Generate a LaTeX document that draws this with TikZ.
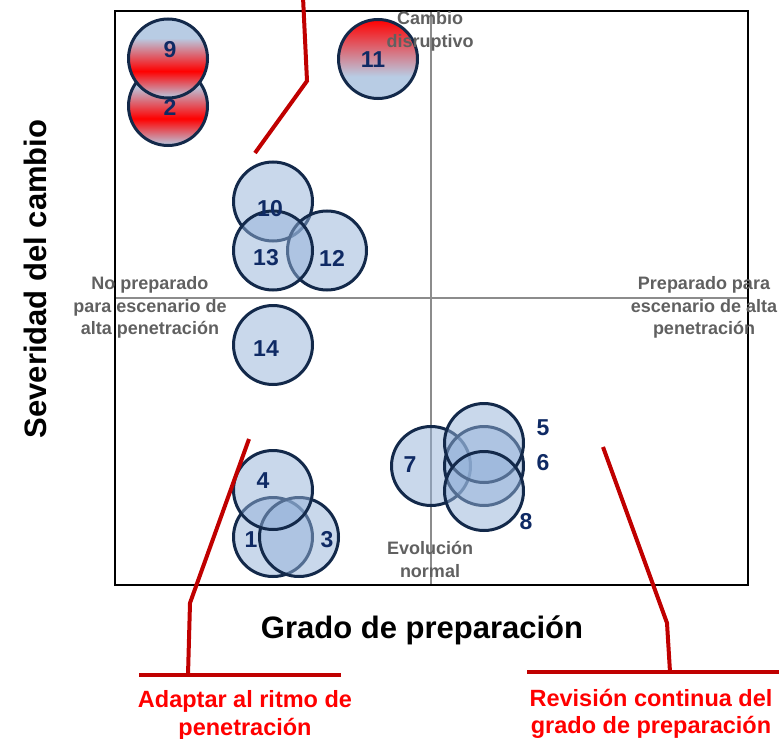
\documentclass[tikz,border=0pt]{standalone}
\usepackage{fontspec}
\setmainfont{Liberation Sans}
\definecolor{cblue}{HTML}{B8CCE4}
\definecolor{cred}{HTML}{FF0000}
\definecolor{bubblefill}{HTML}{93B1D8}
\definecolor{bubbleline}{HTML}{13294A}
\definecolor{numcol}{HTML}{0F2A64}
\definecolor{graytxt}{HTML}{606060}
\definecolor{darkred}{HTML}{C00000}
\pgfdeclareverticalshading{bandred}{100bp}{color(0bp)=(cblue); color(25bp)=(cblue); color(42bp)=(cred); color(63bp)=(cblue); color(75bp)=(cblue); color(100bp)=(cblue)}
\pgfdeclareverticalshading{topred}{100bp}{color(0bp)=(cblue); color(25bp)=(cblue); color(39bp)=(cblue); color(75bp)=(cred); color(100bp)=(cred)}
\tikzset{
  bubble/.style={circle, draw=bubbleline, line width=3pt, minimum size=79pt, inner sep=0pt, fill=bubblefill, fill opacity=0.5},
  hotbubble/.style={circle, draw=bubbleline, line width=3pt, minimum size=79pt, inner sep=0pt, shade, shading=#1},
  num/.style={text=numcol, font=\bfseries\fontsize{23}{27}\selectfont, inner sep=0pt},
  quad/.style={text=graytxt, font=\bfseries\fontsize{18}{22.5}\selectfont, align=center, inner sep=0pt},
  axistitle/.style={text=black, font=\bfseries\fontsize{31}{37}\selectfont, inner sep=0pt},
  redlabel/.style={text=cred, font=\bfseries\fontsize{23.5}{27.5}\selectfont, align=center, inner sep=0pt},
  callout/.style={draw=darkred, line width=4pt},
}
\begin{document}
\begin{tikzpicture}[x=1pt, y=-1pt]
\useasboundingbox (0,0) rectangle (783,738);
% frame and axes
\coordinate (fTL) at (115,11);
\coordinate (fBR) at (748,585);
\coordinate (axL) at (115,297.5);
\coordinate (axR) at (748,297.5);
\coordinate (axT) at (430.5,11);
\coordinate (axB) at (430.5,585);
\draw[gray!90, line width=2pt] (axL) -- (axR);
\draw[gray!90, line width=2pt] (axT) -- (axB);
\draw[black, line width=2pt] (fTL) rectangle (fBR);
% hot bubbles
\node[hotbubble=bandred] (c2) at (168,106) {};
\node[hotbubble=bandred] (c9) at (168,58.5) {};
\node[hotbubble=topred] (c11) at (378,59) {};
% bubbles
\node[bubble] (c10) at (273,201.5) {};
\node[bubble] (c12) at (327,250.5) {};
\node[bubble] (c13) at (273,250.5) {};
\node[bubble] (c14) at (273,345) {};
\node[bubble] (c1) at (273,537) {};
\node[bubble] (c3) at (299,537) {};
\node[bubble] (c4) at (273,490) {};
\node[bubble] (c7) at (431,466) {};
\node[bubble] (c6) at (484,466) {};
\node[bubble] (c5) at (484,443) {};
\node[bubble] (c8) at (484,491) {};
% numbers
\node[num] (n9) at (170,50) {9};
\node[num] (n2) at (170,107) {2};
\node[num] (n11) at (373,60) {11};
\node[num] (n10) at (270,209) {10};
\node[num] (n13) at (266,258) {13};
\node[num] (n12) at (332,258) {12};
\node[num] (n14) at (266,349) {14};
\node[num] (n4) at (263,481) {4};
\node[num] (n1) at (251,540) {1};
\node[num] (n3) at (327,540) {3};
\node[num] (n7) at (410,465) {7};
\node[num] (n5) at (543,428) {5};
\node[num] (n6) at (543,463) {6};
\node[num] (n8) at (526,522) {8};
% quadrant labels
\node[quad] (qtop) at (430,31.5) {Cambio\\disruptivo};
\node[quad] (qleft) at (150,307.5) {No preparado\\para escenario de\\alta penetración};
\node[quad] (qright) at (704,307.5) {Preparado para\\escenario de alta\\penetración};
\node[quad] (qbottom) at (430,559.5) {Evolución\\normal};
% axis titles
\node[axistitle] (xtitle) at (422,630) {Grado de preparación};
\node[axistitle, rotate=90] (ytitle) at (35,279) {Severidad del cambio};
% callout lines
\coordinate (a0) at (303,-3);
\coordinate (a1) at (307,81);
\coordinate (a2) at (255,153);
\draw[callout] (a0) -- (a1) -- (a2);
\coordinate (b0) at (249,439);
\coordinate (b1) at (190,603);
\coordinate (b2) at (188,675);
\coordinate (bL) at (139,675);
\coordinate (bR) at (341,675);
\draw[callout] (b0) -- (b1) -- (b2);
\draw[callout] (bL) -- (bR);
\coordinate (r0) at (603,447);
\coordinate (r1) at (667,623);
\coordinate (r2) at (670,672);
\coordinate (rL) at (527,672);
\coordinate (rR) at (779,672);
\draw[callout] (r0) -- (r1) -- (r2);
\draw[callout] (rL) -- (rR);
% red labels
\node[redlabel] (lab1) at (245,715.5) {Adaptar al ritmo de\\penetración};
\node[redlabel] (lab2) at (651,714) {Revisión continua del\\grado de preparación};
\end{tikzpicture}
\end{document}
